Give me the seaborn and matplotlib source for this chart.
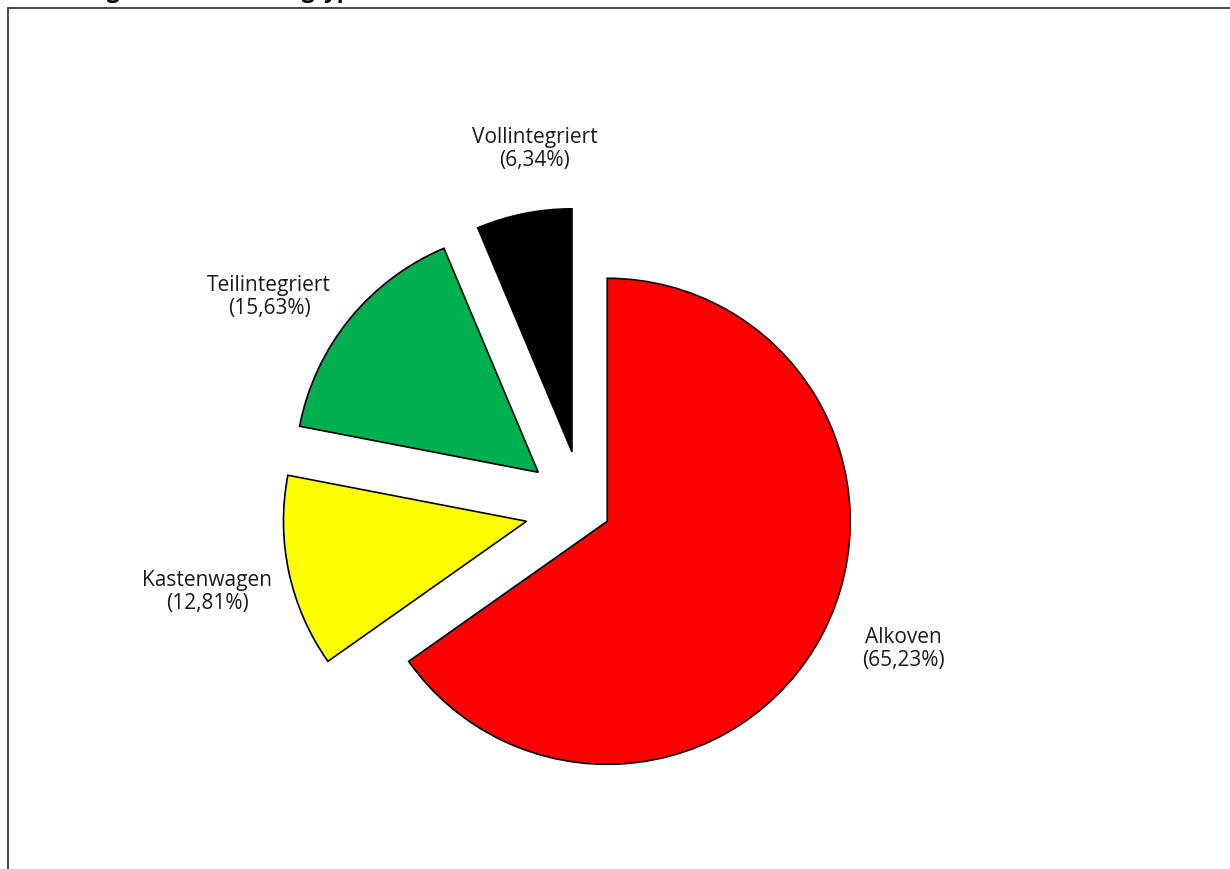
import matplotlib
matplotlib.use("Agg")
import matplotlib.pyplot as plt
from matplotlib.lines import Line2D
import seaborn as sns

# Daten
categories = ["Alkoven", "Kastenwagen", "Teilintegriert", "Vollintegriert"]
shares = [65.23, 12.81, 15.63, 6.34]
slice_colors = ["#FF0000", "#FFFF00", "#00B050", "#000000"]
explode = [0.11, 0.24, 0.24, 0.24]

# Beschriftungen (Position in Radius-Einheiten relativ zum Kreismittelpunkt)
label_pos = [(1.315, -0.572), (-1.549, -0.337), (-1.293, 0.877), (-0.201, 1.486)]

sns.set_theme(style="white")
plt.rcParams["font.family"] = ["Open Sans", "DejaVu Sans"]

W, H = 1230, 870
fig = plt.figure(figsize=(W / 100, H / 100), dpi=100)

# Rahmen (nur links und oben sichtbar, Rest abgeschnitten)
fig.add_artist(Line2D([8 / W, 8 / W], [0, 1 - 9 / H], transform=fig.transFigure,
                      color="#3a3a3a", lw=1.3))
fig.add_artist(Line2D([8 / W, 1], [1 - 9 / H, 1 - 9 / H], transform=fig.transFigure,
                      color="#3a3a3a", lw=1.3))

# Titel (oben abgeschnitten, nur Unterlängen sichtbar)
fig.text(8 / W, 1 + 2 / H, "Zulassungen nach Fahrzeugtyp", fontsize=16,
         fontweight="bold", ha="left", va="baseline", color="black")

ax = fig.add_axes([0, 0, 1, 1])
ax.pie(shares, colors=slice_colors, explode=explode, startangle=90,
       counterclock=False, radius=1.0,
       wedgeprops=dict(edgecolor="black", linewidth=1.2))

for name, val, (x, y) in zip(categories, shares, label_pos):
    txt = f"{name}\n({val:.2f}%)".replace(".", ",")
    ax.text(x, y, txt, ha="center", va="center", fontsize=15,
            linespacing=1.1, color="#1a1a1a")

# Skalierung: Mittelpunkt bei (583.5, 510) px, Radius 243 px
cx, cy, r = 583.5, 510, 243
ax.set_xlim(-cx / r, (W - cx) / r)
ax.set_ylim(-(H - cy) / r, cy / r)
ax.set_aspect("equal", adjustable="box")
ax.axis("off")

fig.savefig("out.png", dpi=100)
